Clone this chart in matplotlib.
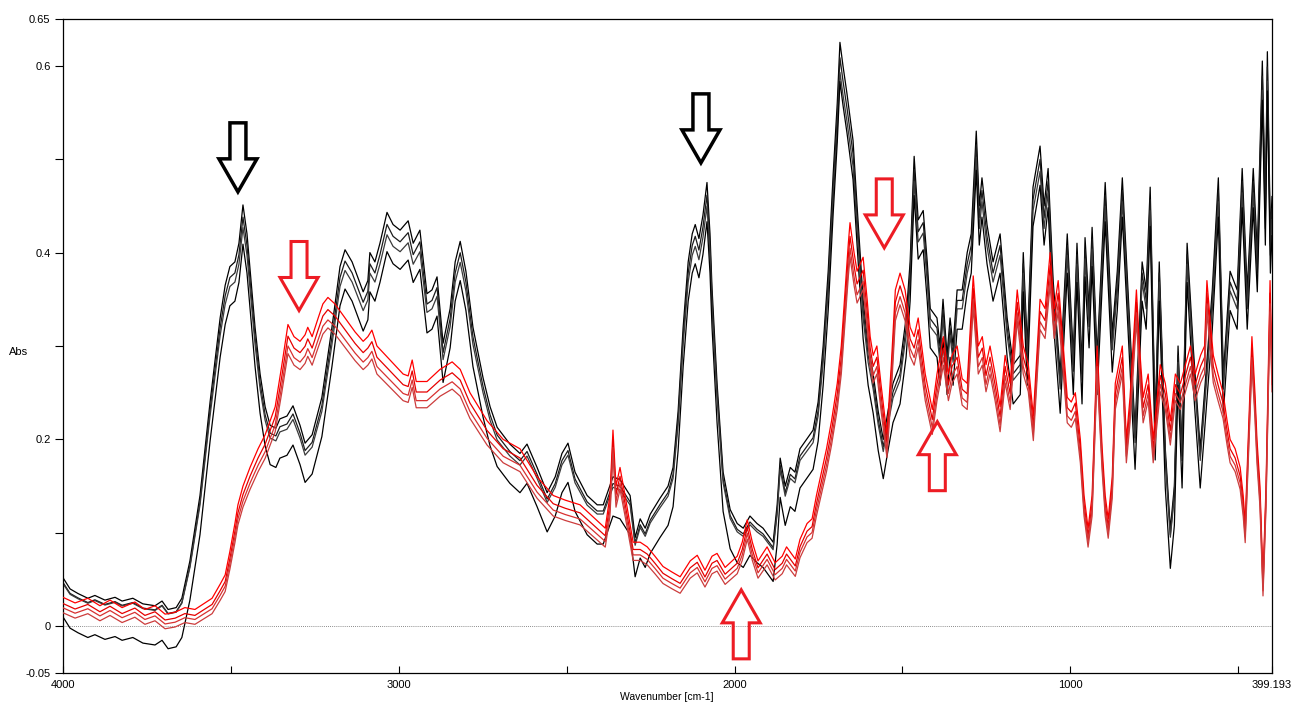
import numpy as np
import matplotlib
matplotlib.use('Agg')
import matplotlib.pyplot as plt
from matplotlib.patches import Polygon
from matplotlib.transforms import IdentityTransform

# ---------------- data ----------------
black_wn = [4000, 3979, 3955, 3926, 3905, 3875, 3845, 3824, 3792, 3762, 3726, 3705, 3687, 3663, 3646,
            3622, 3592, 3562, 3532, 3517, 3503, 3488, 3476, 3464, 3452, 3440, 3428, 3413, 3398, 3383,
            3366, 3354, 3333, 3315, 3294, 3279, 3258, 3229, 3199, 3175, 3160, 3139, 3106, 3092, 3086,
            3071, 3056, 3035, 3017, 2996, 2972, 2957, 2937, 2916, 2901, 2886, 2868, 2847, 2832, 2817,
            2800, 2779, 2749, 2728, 2707, 2669, 2639, 2618, 2588, 2558, 2534, 2514, 2496, 2475, 2439,
            2409, 2391, 2362, 2341, 2311, 2296, 2281, 2266, 2251, 2222, 2198, 2183, 2168, 2153, 2138,
            2126, 2117, 2106, 2094, 2082, 2073, 2067, 2052, 2034, 2013, 1992, 1974, 1954, 1933, 1915,
            1885, 1873, 1864, 1849, 1834, 1820, 1805, 1766, 1751, 1736, 1721, 1706, 1694, 1686, 1677,
            1665, 1647, 1635, 1617, 1602, 1587, 1572, 1557, 1543, 1528, 1507, 1489, 1477, 1465, 1453,
            1438, 1426, 1417, 1397, 1388, 1379, 1367, 1358, 1349, 1337, 1322, 1307, 1295, 1280, 1271,
            1263, 1248, 1230, 1209, 1188, 1170, 1149, 1140, 1128, 1111, 1090, 1078, 1066, 1051, 1030,
            1009, 991, 980, 965, 956, 944, 935, 920, 896, 875, 860, 845, 828, 807, 786,
            774, 762, 747, 735, 717, 702, 690, 679, 667, 652, 634, 613, 592, 577, 559,
            544, 524, 503, 488, 473, 455, 443, 428, 419, 413, 404, 399.193]
black_abs = [0.052, 0.040, 0.035, 0.030, 0.033, 0.028, 0.031, 0.027, 0.030, 0.024, 0.022, 0.027, 0.018, 0.020, 0.030,
             0.070, 0.140, 0.240, 0.330, 0.365, 0.385, 0.390, 0.410, 0.451, 0.420, 0.370, 0.320, 0.270, 0.235, 0.215,
             0.212, 0.222, 0.225, 0.236, 0.215, 0.196, 0.205, 0.245, 0.320, 0.385, 0.403, 0.390, 0.358, 0.370, 0.400,
             0.390, 0.410, 0.443, 0.430, 0.424, 0.434, 0.410, 0.424, 0.356, 0.360, 0.374, 0.303, 0.340, 0.390, 0.412,
             0.380, 0.320, 0.266, 0.235, 0.213, 0.195, 0.185, 0.195, 0.170, 0.143, 0.160, 0.185, 0.196, 0.165, 0.140,
             0.130, 0.130, 0.160, 0.157, 0.140, 0.095, 0.115, 0.105, 0.120, 0.137, 0.150, 0.170, 0.230, 0.320, 0.390,
             0.420, 0.430, 0.415, 0.440, 0.475, 0.420, 0.362, 0.260, 0.165, 0.125, 0.110, 0.105, 0.118, 0.110, 0.105,
             0.090, 0.130, 0.180, 0.150, 0.170, 0.165, 0.190, 0.210, 0.240, 0.300, 0.380, 0.485, 0.560, 0.625, 0.600,
             0.570, 0.520, 0.450, 0.350, 0.300, 0.270, 0.230, 0.200, 0.230, 0.260, 0.280, 0.330, 0.390, 0.503, 0.435,
             0.445, 0.390, 0.340, 0.330, 0.300, 0.350, 0.290, 0.330, 0.300, 0.360, 0.360, 0.400, 0.420, 0.530, 0.450,
             0.480, 0.430, 0.390, 0.420, 0.330, 0.280, 0.290, 0.400, 0.300, 0.470, 0.514, 0.450, 0.490, 0.370, 0.270,
             0.420, 0.290, 0.410, 0.280, 0.416, 0.340, 0.427, 0.290, 0.475, 0.314, 0.380, 0.480, 0.360, 0.210, 0.390,
             0.360, 0.470, 0.220, 0.390, 0.190, 0.104, 0.150, 0.300, 0.190, 0.410, 0.300, 0.190, 0.290, 0.360, 0.480,
             0.270, 0.380, 0.360, 0.490, 0.360, 0.490, 0.400, 0.605, 0.450, 0.615, 0.420, 0.460]

red_wn = [4000, 3964, 3926, 3890, 3860, 3824, 3786, 3756, 3726, 3696, 3666, 3637, 3607, 3577, 3556,
          3532, 3517, 3503, 3488, 3479, 3464, 3443, 3419, 3398, 3368, 3348, 3330, 3312, 3294, 3279,
          3271, 3258, 3240, 3226, 3211, 3190, 3160, 3130, 3106, 3092, 3080, 3065, 3026, 2987, 2972,
          2960, 2948, 2916, 2877, 2841, 2817, 2788, 2737, 2689, 2639, 2588, 2540, 2504, 2460, 2409,
          2385, 2371, 2362, 2353, 2341, 2326, 2302, 2281, 2260, 2237, 2213, 2186, 2162, 2132, 2111,
          2088, 2067, 2052, 2028, 2007, 1992, 1977, 1962, 1947, 1930, 1903, 1879, 1858, 1845, 1819,
          1805, 1784, 1769, 1756, 1741, 1726, 1711, 1694, 1682, 1670, 1661, 1656, 1644, 1635, 1617,
          1605, 1596, 1587, 1576, 1564, 1551, 1546, 1533, 1521, 1507, 1492, 1477, 1465, 1453, 1432,
          1411, 1397, 1378, 1363, 1352, 1337, 1322, 1307, 1289, 1274, 1262, 1251, 1239, 1224, 1209,
          1194, 1179, 1158, 1140, 1125, 1110, 1090, 1075, 1060, 1048, 1036, 1021, 1009, 997, 985,
          970, 959, 947, 935, 920, 905, 896, 887, 875, 866, 845, 833, 822, 803, 794,
          783, 768, 753, 732, 717, 702, 687, 672, 657, 642, 628, 612, 600, 593, 584,
          574, 560, 545, 533, 524, 509, 494, 485, 479, 470, 459, 450, 444, 435, 426,
          417, 411, 405, 399.193]
red_abs = [0.031, 0.025, 0.030, 0.022, 0.028, 0.020, 0.026, 0.018, 0.022, 0.013, 0.015, 0.020, 0.018, 0.025, 0.030,
           0.045, 0.055, 0.080, 0.110, 0.130, 0.150, 0.170, 0.190, 0.205, 0.235, 0.280, 0.323, 0.310, 0.305, 0.312,
           0.320, 0.310, 0.330, 0.345, 0.352, 0.345, 0.330, 0.315, 0.305, 0.310, 0.317, 0.300, 0.285, 0.270, 0.268,
           0.285, 0.262, 0.262, 0.275, 0.283, 0.275, 0.250, 0.220, 0.200, 0.190, 0.160, 0.140, 0.135, 0.130, 0.113,
           0.105, 0.140, 0.210, 0.150, 0.170, 0.140, 0.090, 0.090, 0.085, 0.075, 0.064, 0.058, 0.053, 0.070, 0.076,
           0.060, 0.075, 0.078, 0.063, 0.070, 0.075, 0.090, 0.114, 0.090, 0.070, 0.085, 0.068, 0.075, 0.085, 0.072,
           0.093, 0.110, 0.115, 0.140, 0.165, 0.190, 0.220, 0.260, 0.300, 0.362, 0.410, 0.432, 0.400, 0.380, 0.395,
           0.350, 0.310, 0.290, 0.300, 0.260, 0.220, 0.206, 0.280, 0.360, 0.378, 0.360, 0.320, 0.310, 0.330, 0.270,
           0.232, 0.270, 0.310, 0.270, 0.290, 0.300, 0.265, 0.260, 0.375, 0.300, 0.310, 0.280, 0.300, 0.270, 0.235,
           0.290, 0.260, 0.360, 0.300, 0.280, 0.225, 0.350, 0.340, 0.400, 0.340, 0.370, 0.300, 0.245, 0.240, 0.250,
           0.200, 0.140, 0.105, 0.140, 0.300, 0.190, 0.140, 0.115, 0.160, 0.260, 0.300, 0.200, 0.245, 0.360, 0.300,
           0.245, 0.270, 0.200, 0.280, 0.260, 0.220, 0.270, 0.260, 0.280, 0.300, 0.270, 0.290, 0.300, 0.370, 0.330,
           0.290, 0.270, 0.250, 0.220, 0.200, 0.190, 0.170, 0.140, 0.110, 0.200, 0.310, 0.250, 0.200, 0.150, 0.050,
           0.150, 0.260, 0.370, 0.280]

# per-trace scale / offset relative to the top trace of each group
black_scale = [1.00, 0.98, 0.955, 1.00]
black_offset = [0.000, -0.004, -0.004, -0.042]
red_scale = [1.00, 0.98, 0.96, 0.95]
red_offset = [0.000, -0.006, -0.010, -0.015]

# annotation arrows: tip position, direction, colour
arrow_wn = [3479, 2100, 3297, 1554, 1980, 1396]
arrow_abs = [0.465, 0.496, 0.338, 0.405, 0.039, 0.219]
arrow_dir = ['down', 'down', 'down', 'down', 'up', 'up']
arrow_col = ['black', 'black', 'red', 'red', 'red', 'red']

x_major = [4000, 3000, 2000, 1000, 399.193]
x_major_labels = ['4000', '3000', '2000', '1000', '399.193']
x_minor = [3500, 2500, 1500, 500]
y_major = [-0.05, 0, 0.2, 0.4, 0.6, 0.65]
y_major_labels = ['-0.05', '0', '0.2', '0.4', '0.6', '0.65']
y_minor = [0.1, 0.3, 0.5]

# ---------------- figure ----------------
plt.rcParams['font.family'] = ['Liberation Sans', 'DejaVu Sans']
W, H = 1295, 704
fig = plt.figure(figsize=(W / 100, H / 100), dpi=100)
ax = fig.add_axes([63 / W, 1 - 673 / H, (1272 - 63) / W, (673 - 19) / H])

ax.set_xlim(4000, 399.193)
ax.set_ylim(-0.05, 0.65)

ax.axhline(0, color='#666666', lw=0.6, ls=(0, (1, 1.5)), zorder=1)

bw = np.array(black_wn)
ba = np.array(black_abs)
rw = np.array(red_wn)
ra = np.array(red_abs)

black_cols = ['#000000', '#1c1c1c', '#3a3a3a', '#000000']
red_cols = ['#ff0000', '#e60000', '#d83030', '#cc3c3c']
for s, o, c in zip(black_scale, black_offset, black_cols):
    ax.plot(bw, ba * s + o, color=c, lw=0.9, zorder=2)
for s, o, c in zip(red_scale, red_offset, red_cols):
    ax.plot(rw, ra * s + o, color=c, lw=0.9, zorder=3)

ax.set_xticks(x_major)
ax.set_xticklabels(x_major_labels)
ax.set_xticks(x_minor, minor=True)
ax.set_yticks(y_major)
ax.set_yticklabels(y_major_labels)
ax.set_yticks(y_minor, minor=True)
ax.tick_params(axis='x', which='both', direction='in', length=5, width=0.8,
               labelsize=8, pad=5, colors='black')
ax.tick_params(axis='y', which='both', direction='out', length=6, width=0.8,
               labelsize=8, pad=3, colors='black')
for sp in ax.spines.values():
    sp.set_linewidth(0.9)
    sp.set_color('black')

fig.text(19 / W, 1 - 352 / H, 'Abs', fontsize=8, ha='center', va='center')
fig.text(667 / W, 1 - 697 / H, 'Wavenumber [cm-1]', fontsize=7.5, ha='center', va='center')

# ---------------- block arrows ----------------
def block_arrow(xd, yd, direction, color):
    x, y = ax.transData.transform((xd, yd))
    L, hl, hw, sw = 69, 33, 19, 8
    s = 1 if direction == 'down' else -1
    verts = [(x, y), (x + hw, y + s * hl), (x + sw, y + s * hl), (x + sw, y + s * L),
             (x - sw, y + s * L), (x - sw, y + s * hl), (x - hw, y + s * hl)]
    ec = '#000000' if color == 'black' else '#ed1c24'
    lw = 2.5 if color == 'black' else 2.2
    p = Polygon(verts, closed=True, fill=False, edgecolor=ec, lw=lw,
                joinstyle='miter', transform=IdentityTransform(), clip_on=False, zorder=5)
    fig.add_artist(p)

for xw, ya, d, c in zip(arrow_wn, arrow_abs, arrow_dir, arrow_col):
    block_arrow(xw, ya, d, c)

fig.savefig('out.png', dpi=100)
